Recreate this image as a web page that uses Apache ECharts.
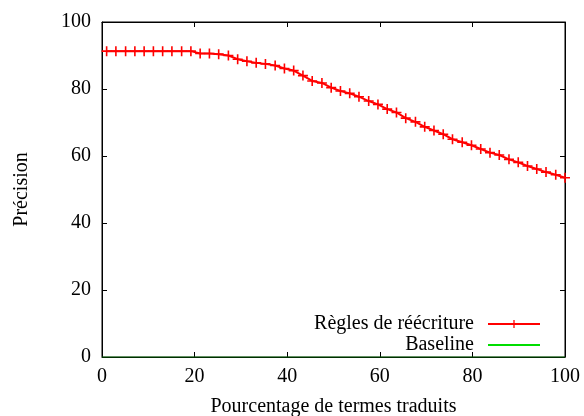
<!DOCTYPE html>
<html>
<head>
<meta charset="utf-8">
<script src="https://cdn.jsdelivr.net/npm/echarts@6/dist/echarts.min.js"></script>
<style>
  html, body { margin: 0; padding: 0; background: #fff; }
  #chart { width: 584px; height: 416px; }
</style>
</head>
<body>
<div id="chart"></div>
<script>
// pourcentage de termes traduits (axe x)
var xPercent = [1, 3, 5.1, 7.1, 9.1, 11.1, 13.1, 15.1, 17.2, 19.2,
    21.2, 23.2, 25.2, 27.3, 29.3, 31.3, 33.3, 35.3, 37.4, 39.4,
    41.4, 43.4, 45.4, 47.5, 49.5, 51.5, 53.5, 55.5, 57.6, 59.6,
    61.6, 63.6, 65.6, 67.7, 69.7, 71.7, 73.7, 75.7, 77.8, 79.8,
    81.8, 83.8, 85.8, 87.9, 89.9, 91.9, 93.9, 95.9, 98, 100];
// précision, règles de réécriture
var regles = [91.3, 91.3, 91.3, 91.3, 91.3, 91.3, 91.3, 91.3, 91.3, 91.3,
    90.6, 90.6, 90.4, 90.0, 88.9, 88.3, 87.8, 87.5, 87.0, 86.1,
    85.5, 84.0, 82.4, 81.8, 80.4, 79.4, 78.7, 77.7, 76.4, 75.4,
    74.0, 73.0, 71.3, 70.2, 68.7, 67.6, 66.5, 65.0, 64.1, 63.2,
    62.1, 61.0, 60.3, 59.0, 58.1, 57.0, 56.1, 55.2, 54.4, 53.5];
// baseline
var baselineX = [0, 100];
var baselineY = [0, 0];
var xTicks = [0, 20, 40, 60, 80, 100];
var yTicks = [0, 20, 40, 60, 80, 100];

var font = 'Liberation Serif';
var plus = 'path://M4.2,0H5.8V4.2H10V5.8H5.8V10H4.2V5.8H0V4.2H4.2Z';

var chart = echarts.init(document.getElementById('chart'), null, { renderer: 'canvas' });

function pairs(xs, ys) {
    var out = [];
    for (var i = 0; i < xs.length; i++) out.push([xs[i], ys[i]]);
    return out;
}

var axisCommon = {
    type: 'value',
    min: 0,
    max: 100,
    interval: 20,
    splitLine: { show: false },
    axisLine: { show: true, onZero: false, lineStyle: { color: '#000', width: 1 } },
    axisTick: { show: true, inside: true, length: 5, lineStyle: { color: '#000' } }
};

chart.setOption({
    animation: false,
    backgroundColor: '#fff',
    textStyle: { fontFamily: font },
    grid: {
        left: 102, right: 19, top: 22, bottom: 59,
        outerBoundsMode: 'none', containLabel: false,
        show: true, borderColor: '#000', borderWidth: 1
    },
    legend: {
        orient: 'vertical',
        right: 38,
        top: 309,
        align: 'right',
        itemWidth: 52,
        itemHeight: 10,
        itemGap: 1,
        textStyle: { fontFamily: font, fontSize: 20, color: '#000', padding: [0, 9, 0, 0] },
        data: [
            { name: 'Règles de réécriture' },
            { name: 'Baseline', itemStyle: { color: 'rgba(0,0,0,0)', borderWidth: 0 },
              lineStyle: { color: '#00dd00', opacity: 1 } }
        ]
    },
    xAxis: [
        Object.assign({}, axisCommon, {
            position: 'bottom',
            name: 'Pourcentage de termes traduits',
            nameLocation: 'middle',
            nameGap: 40,
            nameTextStyle: { fontFamily: font, fontSize: 20, color: '#000' },
            axisLabel: { margin: 10, fontFamily: font, fontSize: 20, color: '#000',
                formatter: function (v) { return xTicks.indexOf(v) >= 0 ? String(v) : ''; } }
        }),
        Object.assign({}, axisCommon, { position: 'top', axisLabel: { show: false } })
    ],
    yAxis: [
        Object.assign({}, axisCommon, {
            position: 'left',
            name: 'Précision',
            nameLocation: 'middle',
            nameGap: 70,
            nameTextStyle: { fontFamily: font, fontSize: 20, color: '#000' },
            axisLabel: { margin: 11, fontFamily: font, fontSize: 20, color: '#000',
                formatter: function (v) { return yTicks.indexOf(v) >= 0 ? String(v) : ''; } }
        }),
        Object.assign({}, axisCommon, { position: 'right', axisLabel: { show: false } })
    ],
    series: [
        {
            name: 'Règles de réécriture',
            type: 'line',
            data: pairs(xPercent, regles),
            symbol: plus,
            symbolSize: 10,
            showAllSymbol: true,
            clip: false,
            lineStyle: { color: '#ff0000', width: 2 },
            itemStyle: { color: '#ff0000' },
            z: 3
        },
        {
            name: 'Baseline',
            type: 'line',
            data: pairs(baselineX, baselineY),
            symbol: 'circle',
            showSymbol: false,
            clip: false,
            lineStyle: { color: '#00cc00', width: 1, opacity: 0.45 },
            itemStyle: { color: '#00cc00' },
            z: 2
        }
    ]
});
</script>
</body>
</html>
